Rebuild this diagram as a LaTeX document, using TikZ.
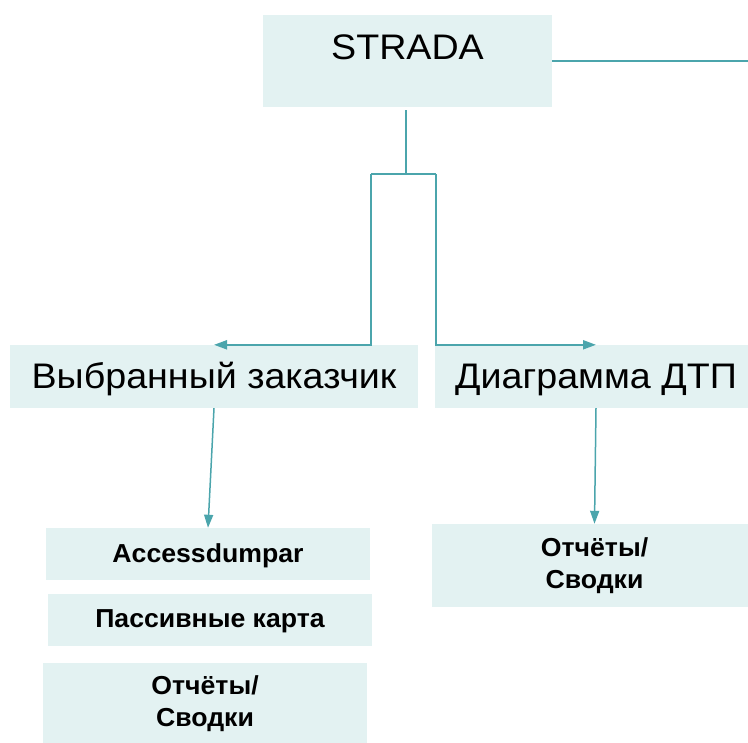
\documentclass[tikz,border=0pt]{standalone}
\usepackage{fontspec}
\setmainfont{Liberation Sans}
\newfontfamily\widefont[FakeStretch=1.06]{Liberation Sans}
\newfontfamily\widebold[FakeStretch=1.025]{Liberation Sans Bold}
\usetikzlibrary{arrows.meta}
\definecolor{boxfill}{RGB}{227,242,242}
\definecolor{linecol}{RGB}{75,165,172}
\begin{document}
\begin{tikzpicture}[x=1pt,y=-1pt,
  box/.style={fill=boxfill, draw=none, inner sep=0pt},
  bigtxt/.style={font=\widefont\fontsize{35.5}{42}\selectfont},
  smalltxt/.style={font=\widebold\fontsize{26}{32}\selectfont},
  conn/.style={draw=linecol, line width=2pt},
  arr/.style={conn, -{Triangle[length=13pt,width=9pt]}},
  arrthin/.style={draw=linecol, line width=1.5pt, -{Triangle[length=13pt,width=9pt]}},
]
\useasboundingbox (0,0) rectangle (748,743);

\node[box, bigtxt, minimum width=289pt, text height=45pt, text depth=47pt] (strada) at (407.5,61) {STRADA};
\node[box, bigtxt, minimum width=408pt, text height=44pt, text depth=19pt] (vybr) at (214,376.5) {Выбранный заказчик};
\node[box, bigtxt, minimum width=322pt, text height=44pt, text depth=19pt] (diag) at (596,376.5) {Диаграмма ДТП};
\node[box, smalltxt, minimum width=324pt, text height=34pt, text depth=18pt] (access) at (208,554) {Accessdumpar};
\node[box, smalltxt, minimum width=324pt, text height=33pt, text depth=19pt] (pass) at (210,620) {Пассивные карта};
\node[box, smalltxt, align=center, minimum width=324pt, minimum height=82pt] (otchL) at (205,704) {Отчёты/\\Сводки};
\node[box, smalltxt, align=center, minimum width=325pt, minimum height=83pt] (otchR) at (594.5,565.5) {Отчёты/\\Сводки};

\coordinate (edgeR) at (748,61);
\coordinate (split) at (405.7,174);
\coordinate (jl) at (371,174);
\coordinate (jr) at (436,174);

\draw[conn] (strada.east) -- (edgeR);
\draw[conn, shorten <=3pt] (strada.south -| split) -- (split);
\draw[conn] (jl) -- (jr);
\draw[arr] (jl) |- (vybr.north);
\draw[arr] (jr) |- (diag.north);
\draw[arrthin] (vybr.south) -- (access.north);
\draw[arrthin] (diag.south) -- (otchR.north);
\end{tikzpicture}
\end{document}
